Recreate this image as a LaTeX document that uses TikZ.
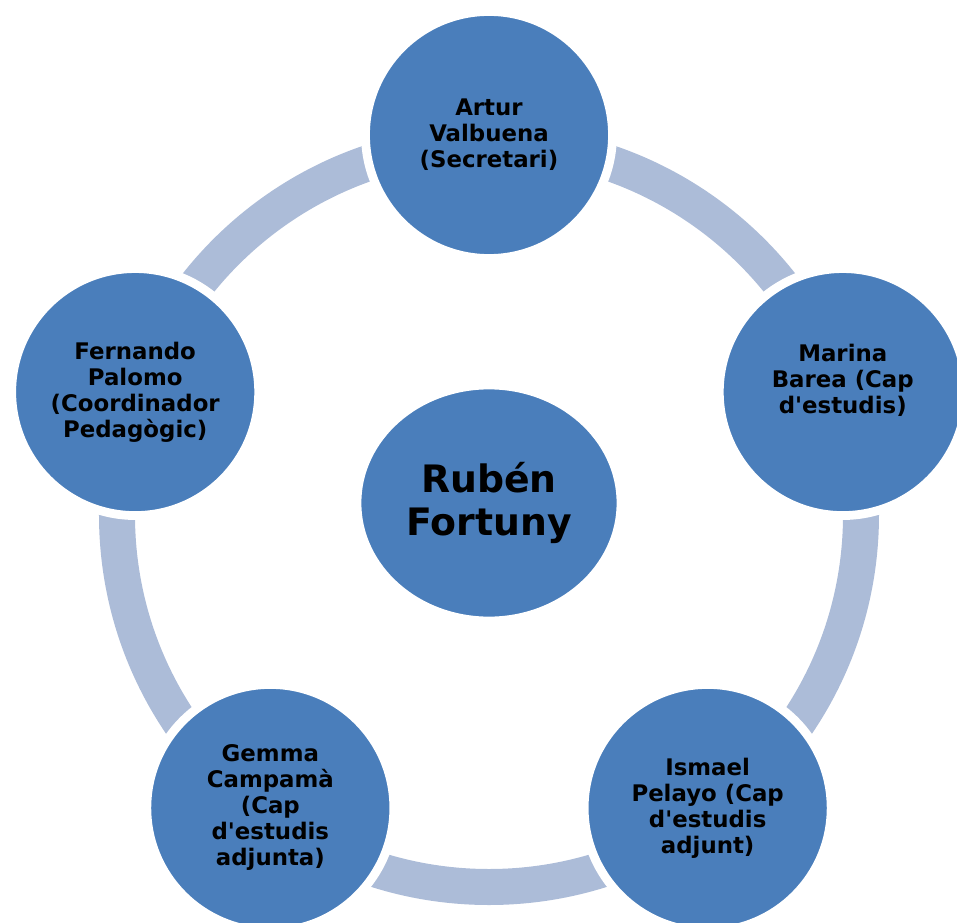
\documentclass[tikz,border=0pt]{standalone}
\usepackage{fontspec}
\setmainfont{DejaVu Sans}
\usepackage{xcolor}
\usepackage{tikz}
\usetikzlibrary{shapes.geometric,positioning}

\definecolor{nodeblue}{RGB}{74,126,187}
\definecolor{ringblue}{RGB}{172,188,216}

\newcommand{\apos}{\textquotesingle}

\begin{document}
\begin{tikzpicture}[scale=1.0,
                    ring/.style={line width=0.72cm, ringblue},
                    person/.style={circle, fill=nodeblue, draw=white, line width=5pt,
                                   minimum size=4.94cm, inner sep=0pt, align=center,
                                   font=\bfseries\fontsize{13}{14.8}\selectfont},
                    boss/.style={ellipse, fill=nodeblue, draw=white, line width=1pt,
                                 minimum width=5.14cm, minimum height=4.58cm, inner sep=0pt,
                                 align=center, font=\bfseries\fontsize{21.5}{24}\selectfont},
                   ]

\useasboundingbox (-9.78,-8.30) rectangle (9.36,10.14);

\def\R{7.44}

% ring behind the members
\draw[ring] (0,-0.16) circle (\R);

\node[boss] (ruben) at (0,0.08) {Rubén\\Fortuny};

\node[person] (artur)    at (90:\R)   {Artur\\Valbuena\\(Secretari)};
\node[person] (marina)   at (18:\R)   {Marina\\Barea (Cap\\d\apos estudis)\\ \mbox{}};
\node[person] (ismael)   at (-54:\R)  {Ismael\\Pelayo (Cap\\d\apos estudis\\adjunt)};
\node[person] (gemma)    at (-126:\R) {Gemma\\Campamà\\(Cap\\d\apos estudis\\adjunta)};
\node[person] (fernando) at (162:\R)  {Fernando\\Palomo\\(Coordinador\\Pedagògic)};

\end{tikzpicture}
\end{document}
